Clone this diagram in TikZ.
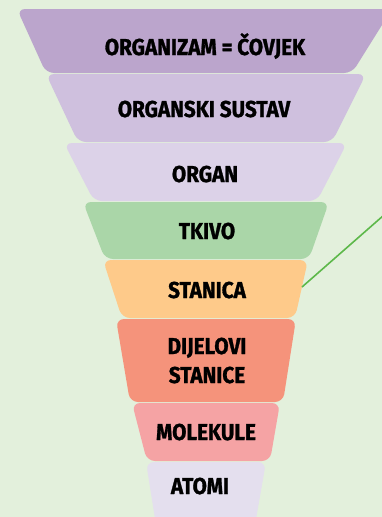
\documentclass[tikz,border=0pt]{standalone}
\usepackage{fontspec}
\setmainfont{Fira Sans}[FakeStretch=0.9, BoldFeatures={FakeBold=1.2}]
\usetikzlibrary{positioning}

\definecolor{bgcol}{HTML}{E3F0DC}
\definecolor{orgcol}{HTML}{BBA5CC}
\definecolor{syscol}{HTML}{CFC0DE}
\definecolor{organcol}{HTML}{DCD2E8}
\definecolor{tkivocol}{HTML}{AAD6A8}
\definecolor{stanicacol}{HTML}{FECA8A}
\definecolor{dijelcol}{HTML}{F5937B}
\definecolor{molcol}{HTML}{F5A3A4}
\definecolor{atomcol}{HTML}{E4DFEE}
\definecolor{linecol}{HTML}{5DB84A}

\begin{document}
\begin{tikzpicture}[x=1pt,y=-1pt,
        layer/.style={rounded corners=8pt},
        lbl/.style={font=\fontsize{23}{26}\selectfont\bfseries, align=center, inner sep=0pt, anchor=base}]
    \fill[bgcol] (0,0) rectangle (382,517);
    \useasboundingbox (0,0) rectangle (382,517);
    \clip (0,0) rectangle (382,517);

    % the funnel, top to bottom
    \fill[orgcol, layer]     (17,9)    -- (392,9)   -- (352,73)  -- (46,73)  -- cycle;
    \fill[syscol, layer]     (46,74)   -- (366,74)  -- (332,142) -- (78,142) -- cycle;
    \fill[organcol, layer]   (64,143)  -- (347,143) -- (317,201) -- (94,201) -- cycle;
    \fill[tkivocol, layer]   (83,202)  -- (329,202) -- (309,259) -- (105,259) -- cycle;
    \fill[stanicacol, layer] (103,260) -- (308,260) -- (295,318) -- (122,318) -- cycle;
    \fill[dijelcol, layer]   (116,319) -- (296,319) -- (283,402) -- (130,402) -- cycle;
    \fill[molcol, layer]     (132,403) -- (280,403) -- (270,461) -- (147,461) -- cycle;
    \fill[atomcol, layer]    (146,462) -- (266,462) -- (255,525) -- (156,525) -- cycle;

    \node[lbl] (organizam) at (205,55)  {ORGANIZAM = ČOVJEK};
    \node[lbl] (sustav)    at (204,117) {ORGANSKI SUSTAV};
    \node[lbl] (organ)     at (205,182) {ORGAN};
    \node[lbl] (tkivo)     at (207,239) {TKIVO};
    \node[lbl] (stanica)   at (207,298) {STANICA};
    \node[lbl] (dijelovi)  at (207,383) {DIJELOVI\\[3pt]STANICE};
    \node[lbl] (molekule)  at (206,440) {MOLEKULE};
    \node[lbl] (atomi)     at (200,494) {ATOMI};

    \coordinate (stanicaedge) at (302,287);
    \coordinate (lineend) at (392,208);
    \draw[linecol, line width=1.6pt] (stanicaedge) -- (lineend);
\end{tikzpicture}
\end{document}
